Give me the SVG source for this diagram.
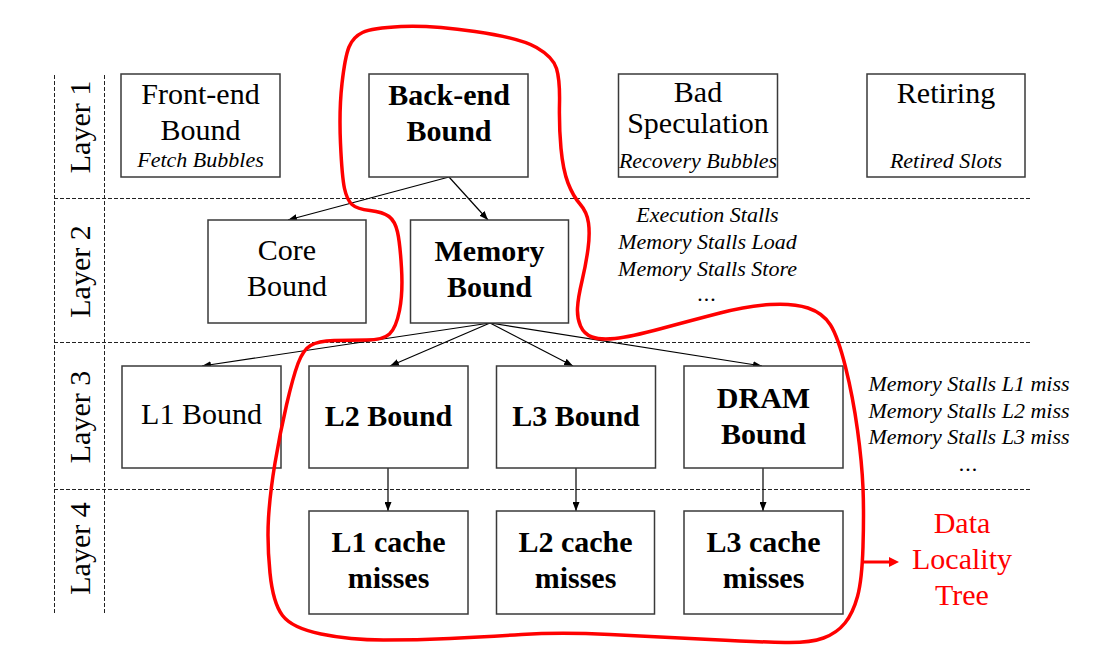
<svg xmlns="http://www.w3.org/2000/svg" width="1119" height="653" viewBox="0 0 1119 653">
<defs>
<marker id="ah" markerUnits="userSpaceOnUse" markerWidth="9" markerHeight="7" refX="9" refY="3.5" orient="auto">
<path d="M0,0 L9,3.5 L0,7 z" fill="#000"/>
</marker>
<style>
.box{fill:#fff;stroke:#3a3a3a;stroke-width:1.5}
.dash{stroke:#222;stroke-width:1;stroke-dasharray:4,2;fill:none}
.t{font-family:"Liberation Serif",serif;font-size:30px;text-anchor:middle;fill:#000}
.b{font-weight:bold}
.i{font-family:"Liberation Serif",serif;font-size:22px;font-style:italic;text-anchor:middle;fill:#000}
.conn{stroke:#000;stroke-width:1.2;fill:none;marker-end:url(#ah)}
.red{fill:#f00}
</style>
</defs>
<rect width="1119" height="653" fill="#fff"/>
<g id="grid">
<line class="dash" x1="54.5" y1="75" x2="54.5" y2="613"/>
<line class="dash" x1="104.5" y1="75" x2="104.5" y2="613"/>
<line class="dash" x1="54" y1="198.5" x2="1030" y2="198.5"/>
<line class="dash" x1="54" y1="342.5" x2="1030" y2="342.5"/>
<line class="dash" x1="54" y1="489.5" x2="1030" y2="489.5"/>
<text class="t" transform="translate(90,127) rotate(-90)">Layer 1</text>
<text class="t" transform="translate(90,271.5) rotate(-90)">Layer 2</text>
<text class="t" transform="translate(90,417) rotate(-90)">Layer 3</text>
<text class="t" transform="translate(90,548.5) rotate(-90)">Layer 4</text>
</g>
<g id="connectors">
<line class="conn" x1="449" y1="177" x2="288" y2="220"/>
<line class="conn" x1="449" y1="177" x2="488" y2="220"/>
<line class="conn" x1="490" y1="323" x2="202" y2="366"/>
<line class="conn" x1="490" y1="323" x2="390" y2="366"/>
<line class="conn" x1="490" y1="323" x2="573" y2="366"/>
<line class="conn" x1="490" y1="323" x2="762" y2="366"/>
<line class="conn" x1="388" y1="468" x2="388" y2="511"/>
<line class="conn" x1="576" y1="468" x2="576" y2="511"/>
<line class="conn" x1="763" y1="468" x2="763" y2="511"/>
</g>
<g id="frontend">
<rect class="box" x="121" y="74" width="159" height="103"/>
<text class="t" x="200.5" y="104">Front-end</text>
<text class="t" x="200.5" y="140">Bound</text>
<text class="i" x="200.5" y="166.5">Fetch Bubbles</text>
</g>
<g id="backend">
<rect class="box" x="369" y="74" width="159" height="103"/>
<text class="t b" x="449" y="105">Back-end</text>
<text class="t b" x="449" y="141">Bound</text>
</g>
<g id="badspec">
<rect class="box" x="618.5" y="74" width="159" height="103"/>
<text class="t" x="698" y="102">Bad</text>
<text class="t" x="698" y="133">Speculation</text>
<text class="i" x="698" y="167.5">Recovery Bubbles</text>
</g>
<g id="retiring">
<rect class="box" x="867" y="74" width="158" height="103"/>
<text class="t" x="946" y="103">Retiring</text>
<text class="i" x="946" y="168">Retired Slots</text>
</g>
<g id="core">
<rect class="box" x="208" y="220" width="158" height="103"/>
<text class="t" x="287" y="260">Core</text>
<text class="t" x="287" y="296">Bound</text>
</g>
<g id="memory">
<rect class="box" x="410.5" y="220" width="158" height="103"/>
<text class="t b" x="489.5" y="261">Memory</text>
<text class="t b" x="489.5" y="297">Bound</text>
</g>
<g id="l2notes">
<text class="i" x="707.5" y="221.5">Execution Stalls</text>
<text class="i" x="707.5" y="249">Memory Stalls Load</text>
<text class="i" x="707.5" y="276">Memory Stalls Store</text>
<text class="i" x="707.5" y="301" letter-spacing="1">...</text>
</g>
<g id="l1bound">
<rect class="box" x="122" y="366" width="159" height="102"/>
<text class="t" x="201.5" y="424">L1 Bound</text>
</g>
<g id="l2bound">
<rect class="box" x="309" y="366" width="159" height="102"/>
<text class="t b" x="388.5" y="426">L2 Bound</text>
</g>
<g id="l3bound">
<rect class="box" x="496.5" y="366" width="159" height="102"/>
<text class="t b" x="576" y="426">L3 Bound</text>
</g>
<g id="drambound">
<rect class="box" x="684" y="366" width="159" height="102"/>
<text class="t b" x="763.5" y="408">DRAM</text>
<text class="t b" x="763.5" y="443.5">Bound</text>
</g>
<g id="l3notes">
<text class="i" x="969" y="391">Memory Stalls L1 miss</text>
<text class="i" x="969" y="418">Memory Stalls L2 miss</text>
<text class="i" x="969" y="444">Memory Stalls L3 miss</text>
<text class="i" x="969" y="471" letter-spacing="1">...</text>
</g>
<g id="l1miss">
<rect class="box" x="309" y="511" width="159" height="103"/>
<text class="t b" x="388.5" y="552">L1 cache</text>
<text class="t b" x="388.5" y="588">misses</text>
</g>
<g id="l2miss">
<rect class="box" x="496.5" y="511" width="158" height="103"/>
<text class="t b" x="575.5" y="552">L2 cache</text>
<text class="t b" x="575.5" y="588">misses</text>
</g>
<g id="l3miss">
<rect class="box" x="684" y="511" width="159" height="103"/>
<text class="t b" x="763.5" y="552">L3 cache</text>
<text class="t b" x="763.5" y="588">misses</text>
</g>
<g id="locality">
<path d="M 401,26.5 Q 430,25 475,31.5 Q 520,38 536.5,47.5 Q 553,57 556.5,68.5 Q 560,80 559.5,103.5 Q 559,127 561,148.5 Q 563,170 568,183 Q 573,196 580,204 Q 587,212 588.5,223 Q 590,234 588,249 Q 586,264 582,281 Q 578,298 577.5,308 Q 577,318 580.5,326 Q 584,334 592,337 Q 600,340 615,338.5 Q 630,337 661.5,328.5 Q 693,320 720,313 Q 747,306 770,304.5 Q 793,303 808,308 Q 823,313 830.5,325 Q 838,337 845.5,367 Q 853,397 857.5,430 Q 862,463 863,488 Q 864,513 863,546.5 Q 862,580 857.5,596.5 Q 853,613 845,623 Q 837,633 823.5,638 Q 810,643 785,642.5 Q 760,642 710,639.5 Q 660,637 610,634.5 Q 560,632 521.5,634.5 Q 483,637 450,638.5 Q 417,640 383.5,640 Q 350,640 321,634 Q 292,628 282.5,615.5 Q 273,603 270,573 Q 267,543 268.5,518 Q 270,493 275,463 Q 280,433 286.5,405 Q 293,377 298,363.5 Q 303,350 310.5,345.5 Q 318,341 334,340.5 Q 350,340 366.5,340 Q 383,340 389.5,334 Q 396,328 399.5,310.5 Q 403,293 401.5,268 Q 400,243 397.5,232 Q 395,221 389,216.5 Q 383,212 370,210.5 Q 357,209 352,204.5 Q 347,200 344.5,188.5 Q 342,177 340.5,143.5 Q 339,110 342,83.5 Q 345,57 349,47 Q 353,37 362.5,32.5 Q 372,28 401,26.5 Z" fill="none" stroke="#f00" stroke-width="3.5"/>
<line x1="863" y1="562" x2="891" y2="562" stroke="#f00" stroke-width="3"/>
<polygon points="899,562 889,557 889,567" fill="#f00"/>
<text class="t red" x="962" y="533">Data</text>
<text class="t red" x="962" y="569">Locality</text>
<text class="t red" x="962" y="605">Tree</text>
</g>
</svg>
